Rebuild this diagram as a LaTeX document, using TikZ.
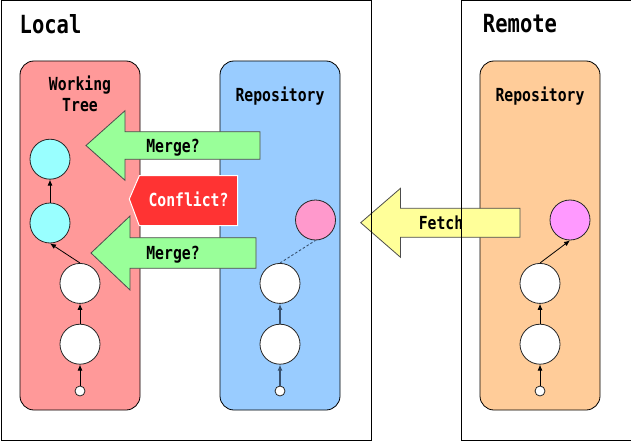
\documentclass[tikz,border=0pt]{standalone}
\usepackage{fontspec}
\setmonofont[FakeStretch=0.82]{DejaVu Sans Mono}
\usetikzlibrary{positioning, arrows.meta}

\definecolor{treered}{HTML}{FF9999}
\definecolor{localblue}{HTML}{99CCFF}
\definecolor{remoteorange}{HTML}{FFCC99}
\definecolor{headcyan}{HTML}{99FFFF}
\definecolor{fetchpink}{HTML}{FF99CC}
\definecolor{remotemagenta}{HTML}{FF99FF}
\definecolor{mergegreen}{HTML}{99FF99}
\definecolor{fetchyellow}{HTML}{FFFF99}
\definecolor{conflictred}{HTML}{FF3333}
\definecolor{repoline}{RGB}{55,80,110}

\begin{document}
\begin{tikzpicture}[x=1pt, y=-1pt, node distance=20pt]
    % Define node styles
    \tikzstyle{panel} = [draw, rounded corners=14pt, minimum width=120pt, minimum height=349pt, line width=0.8pt]
    \tikzstyle{frame} = [draw, inner sep=0pt, minimum width=170pt, minimum height=439.5pt, anchor=north west, line width=0.8pt]
    \tikzstyle{commit} = [circle, draw=black!85, fill=white, minimum size=40pt, inner sep=0pt, line width=0.8pt]
    \tikzstyle{rootcommit} = [circle, draw=black!85, fill=white, minimum size=10pt, inner sep=0pt, line width=0.8pt]
    \tikzstyle{boxtext} = [font=\fontsize{18pt}{20pt}\ttfamily\bfseries\selectfont, anchor=base, inner sep=0pt]
    \tikzstyle{titletext} = [font=\fontsize{25pt}{28pt}\ttfamily\bfseries\selectfont, anchor=base, inner sep=0pt]
    \tikzstyle{link} = [-{Latex[length=6pt,width=5pt]}, line width=0.8pt]
    \tikzstyle{bigarrow} = [draw=black!70, line width=0.8pt]

    \useasboundingbox (0,0) rectangle (631,441);

    % Rounded panels
    \node[panel, fill=treered] (tree) at (80,235.5) {};
    \node[panel, fill=localblue] (repo) at (280,235.5) {};
    \node[panel, fill=remoteorange] (origin) at (540,235.5) {};

    % Panel labels
    \node[boxtext] (treelabel1) at (80,91) {Working};
    \node[boxtext] (treelabel2) at (80,111) {Tree};
    \node[boxtext] (repolabel) at (280,102) {Repository};
    \node[boxtext] (originlabel) at (540,102) {Repository};

    % Working tree commits
    \node[rootcommit] (t0) at (80,391) {};
    \node[commit] (t1) [above=21pt of t0] {};
    \node[commit] (t2) [above=20pt of t1] {};
    \node[commit, fill=headcyan] (t3) at (50,223) {};
    \node[commit, fill=headcyan] (t4) [above=23pt of t3] {};
    \draw[link] (t0.north) -- (t1.south);
    \draw[link] (t1.north) -- (t2.south);
    \draw[link] (t2.north) -- (t3.south);
    \draw[link] (t3.north) -- (t4.south);

    % Local repository commits
    \node[rootcommit] (r0) at (280,391) {};
    \node[commit] (r1) [above=21pt of r0] {};
    \node[commit] (r2) [above=20pt of r1] {};
    \node[commit, fill=fetchpink] (r3) at (315.5,220) {};
    \draw[link, repoline, line width=1.3pt] (r0.north) -- (r1.south);
    \draw[link, repoline, line width=1.3pt] (r1.north) -- (r2.south);
    \draw[repoline, line width=0.9pt, dash pattern=on 2.5pt off 2pt] (r2.north) -- (r3.south);

    % Remote repository commits
    \node[rootcommit] (o0) at (540,391) {};
    \node[commit] (o1) [above=21pt of o0] {};
    \node[commit] (o2) [above=20pt of o1] {};
    \node[commit, fill=remotemagenta] (o3) at (570,220) {};
    \draw[link] (o0.north) -- (o1.south);
    \draw[link] (o1.north) -- (o2.south);
    \draw[link] (o2.north) -- (o3.south);

    % Merge arrows
    \draw[bigarrow, fill=mergegreen] (86,145.5) -- (125,110.7) -- (125,131.7) -- (260,131.7)
        -- (260,159.3) -- (125,159.3) -- (125,180.3) -- cycle;
    \node[boxtext] (merge1) at (173,152) {Merge?};
    \draw[bigarrow, fill=mergegreen] (91,253) -- (130,216) -- (130,237.7) -- (256,237.7)
        -- (256,268.3) -- (130,268.3) -- (130,290) -- cycle;
    \node[boxtext] (merge2) at (173,259) {Merge?};

    % Conflict tag
    \draw[white, line width=1pt, fill=conflictred] (129.3,199) -- (139.3,175.7) -- (237.7,175.7)
        -- (237.7,225.7) -- (139.3,225.7) -- cycle;
    \node[boxtext, white] (conflict) at (188.5,206.5) {Conflict?};

    % Fetch arrow
    \draw[bigarrow, fill=fetchyellow] (360.7,222.7) -- (400.5,188.3) -- (400.5,208.3) -- (520,208.3)
        -- (520,237.3) -- (400.5,237.3) -- (400.5,257.3) -- cycle;
    \node[boxtext] (fetch) at (441,229) {Fetch};

    % Outer frames
    \node[frame, minimum width=370pt] (local) at (0.5,0.5) {};
    \node[frame] (remote) at (460.5,0.5) {};
    \node[titletext, anchor=base west] (localtitle) at (19.5,34) {Local};
    \node[titletext] (remotetitle) at (520,33) {Remote};
\end{tikzpicture}
\end{document}
